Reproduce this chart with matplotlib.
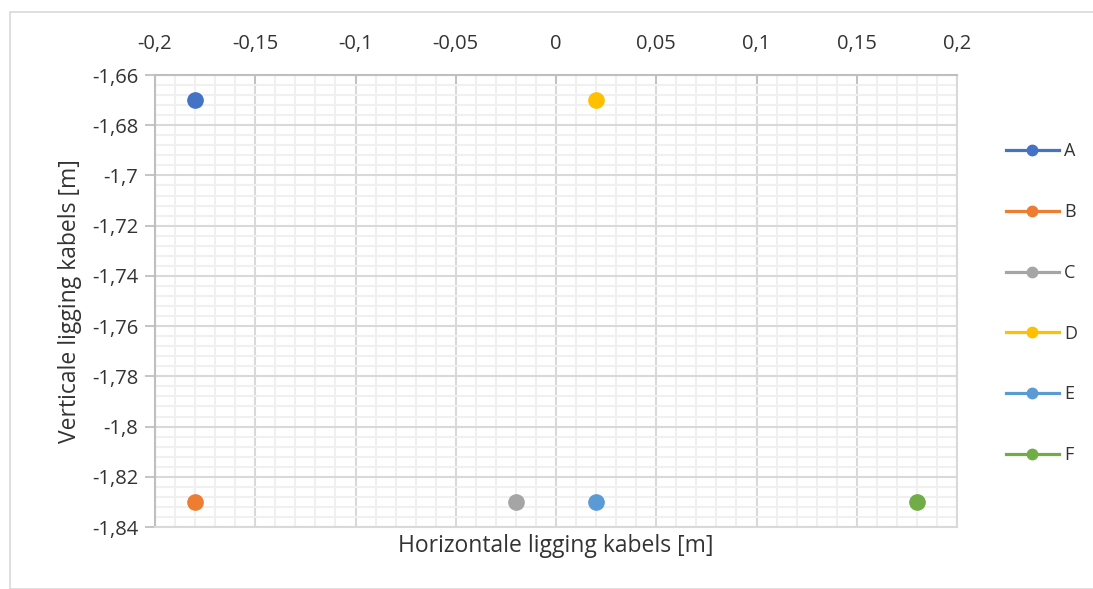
import numpy as np
import matplotlib
matplotlib.use('Agg')
import matplotlib.pyplot as plt
from matplotlib.ticker import MultipleLocator, FuncFormatter
from matplotlib.patches import Rectangle
from matplotlib.lines import Line2D

plt.rcParams['font.family'] = ['Open Sans', 'DejaVu Sans']

# data points (x, y) per cable
labels = ['A', 'B', 'C', 'D', 'E', 'F']
x_pos = [-0.18, -0.18, -0.02, 0.02, 0.02, 0.18]
y_pos = [-1.67, -1.83, -1.83, -1.67, -1.83, -1.83]
colors = ['#4472C4', '#ED7D31', '#A5A5A5', '#FFC000', '#5B9BD5', '#70AD47']

text_col = '#333333'


def comma_fmt(v, pos):
    s = ('%.2f' % v).rstrip('0').rstrip('.')
    if s in ('-0', ''):
        s = '0'
    return s.replace('.', ',')


fig = plt.figure(figsize=(10.93, 5.89), dpi=100)
# outer chart border
fig.patches.append(Rectangle((10 / 1093, 0), 1.2, 1 - 12 / 589, transform=fig.transFigure,
                             fill=False, edgecolor='#D9D9D9', linewidth=1.2))

ax = fig.add_axes([155 / 1093, 1 - 527 / 589, (957 - 155) / 1093, (527 - 75) / 589])

for i in range(len(labels)):
    ax.plot(x_pos[i], y_pos[i], 'o', color=colors[i], markersize=11, zorder=5, clip_on=False)

ax.set_xlim(-0.2, 0.2)
ax.set_ylim(-1.84, -1.66)
ax.xaxis.set_major_locator(MultipleLocator(0.05))
ax.xaxis.set_minor_locator(MultipleLocator(0.01))
ax.yaxis.set_major_locator(MultipleLocator(0.02))
ax.yaxis.set_minor_locator(MultipleLocator(0.004))
ax.xaxis.set_major_formatter(FuncFormatter(comma_fmt))
ax.yaxis.set_major_formatter(FuncFormatter(comma_fmt))

ax.xaxis.tick_top()
ax.tick_params(axis='x', which='major', direction='in', length=7, width=1.3, color='#BFBFBF',
               labelsize=14.5, labelcolor=text_col, pad=15)
ax.tick_params(axis='y', which='major', direction='out', length=7, width=1.3, color='#BFBFBF',
               labelsize=14.5, labelcolor=text_col, pad=5)
ax.tick_params(which='minor', length=0)

ax.grid(which='major', color='#D9D9D9', linewidth=1.5)
ax.grid(which='minor', color='#F0F0F0', linewidth=1.5)
ax.set_axisbelow(True)
for sp in ax.spines.values():
    sp.set_color('#D9D9D9')
    sp.set_linewidth(1.5)
ax.spines['top'].set_color('#BFBFBF')
ax.spines['left'].set_color('#BFBFBF')

ax.set_xlabel('Horizontale ligging kabels [m]', fontsize=16.5, color=text_col, labelpad=5)
ax.xaxis.set_label_position('bottom')
ax.set_ylabel('Verticale ligging kabels [m]', fontsize=16.5, color=text_col, labelpad=7)

handles = [Line2D([0], [0], color=c, marker='o', linewidth=2.3, markersize=7.5) for c in colors]
leg = fig.legend(handles, labels, loc='upper left', bbox_to_anchor=(990 / 1093, 1 - 126 / 589),
                 frameon=False, fontsize=13, labelspacing=2.37, handlelength=2.9,
                 handletextpad=0.3, labelcolor=text_col)

fig.savefig('out.png', dpi=100)
